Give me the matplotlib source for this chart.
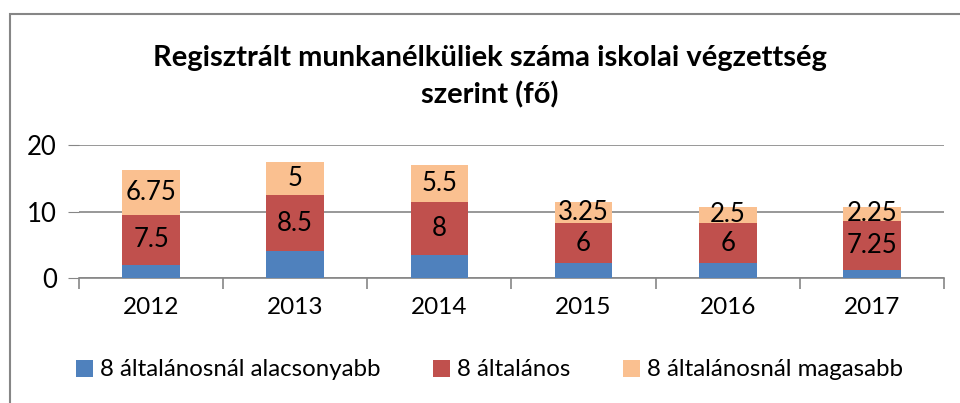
import matplotlib.pyplot as plt
from matplotlib.patches import Rectangle

plt.rcParams['font.family'] = ['Lato', 'DejaVu Sans']

# data
years = ['2012', '2013', '2014', '2015', '2016', '2017']
lower = [2, 4, 3.5, 2.25, 2.25, 1.25]
basic = [7.5, 8.5, 8, 6, 6, 7.25]
higher = [6.75, 5, 5.5, 3.25, 2.5, 2.25]
series_names = ['8 általánosnál alacsonyabb', '8 általános', '8 általánosnál magasabb']
colors = ['#4F81BD', '#C0504D', '#FAC090']

fig = plt.figure(figsize=(9.6, 4.03), dpi=100)
ax = fig.add_axes([79 / 960, 1 - 278 / 403, (944 - 79) / 960, (278 - 145) / 403])

x = range(len(years))
w = 0.4
b1 = ax.bar(x, lower, w, color=colors[0], label=series_names[0], zorder=3)
bot2 = lower
b2 = ax.bar(x, basic, w, bottom=bot2, color=colors[1], label=series_names[1], zorder=3)
bot3 = [a + b for a, b in zip(lower, basic)]
b3 = ax.bar(x, higher, w, bottom=bot3, color=colors[2], label=series_names[2], zorder=3)

# labels only on the two upper series
for i in x:
    ax.text(i, bot2[i] + basic[i] / 2, f'{basic[i]:g}', ha='center', va='center', fontsize=18.5, zorder=4)
    ax.text(i, bot3[i] + higher[i] / 2, f'{higher[i]:g}', ha='center', va='center', fontsize=18.5, zorder=4)

ax.set_ylim(0, 20)
ax.set_xlim(-0.5, 5.5)
ax.set_yticks([0, 10, 20])
ax.yaxis.grid(True, color='#868686', linewidth=1.2, zorder=0)
ax.tick_params(axis='y', length=8, color='#868686', labelsize=18.5, pad=8)
ax.set_xticks([i - 0.5 for i in range(7)])
ax.set_xticklabels([])
ax.set_xticks(list(x), minor=True)
ax.set_xticklabels(years, minor=True, fontsize=17.5)
ax.tick_params(axis='x', which='major', length=8, color='#868686', width=1.2)
ax.tick_params(axis='x', which='minor', length=0, pad=14)
for s in ['left', 'right', 'top']:
    ax.spines[s].set_visible(False)
ax.spines['bottom'].set_color('#868686')
ax.spines['bottom'].set_linewidth(1.2)

fig.text(0.51, 1 - 77 / 403, 'Regisztrált munkanélküliek száma iskolai végzettség\nszerint (fő)',
         ha='center', va='center', fontsize=21, fontweight='bold', linespacing=1.45)

fig.legend(handles=[b1, b2, b3], loc='center', bbox_to_anchor=(0.51, 1 - 370 / 403), ncol=3,
           frameon=False, fontsize=17.3, handlelength=0.7, handleheight=0.7, handletextpad=0.3,
           columnspacing=2.2)

# outer chart border
fig.patches.append(Rectangle((10 / 960, -0.05), 1.0, 1 - 14 / 403 + 0.05, transform=fig.transFigure,
                             fill=False, edgecolor='#868686', linewidth=1.5))

fig.savefig('out.png')
